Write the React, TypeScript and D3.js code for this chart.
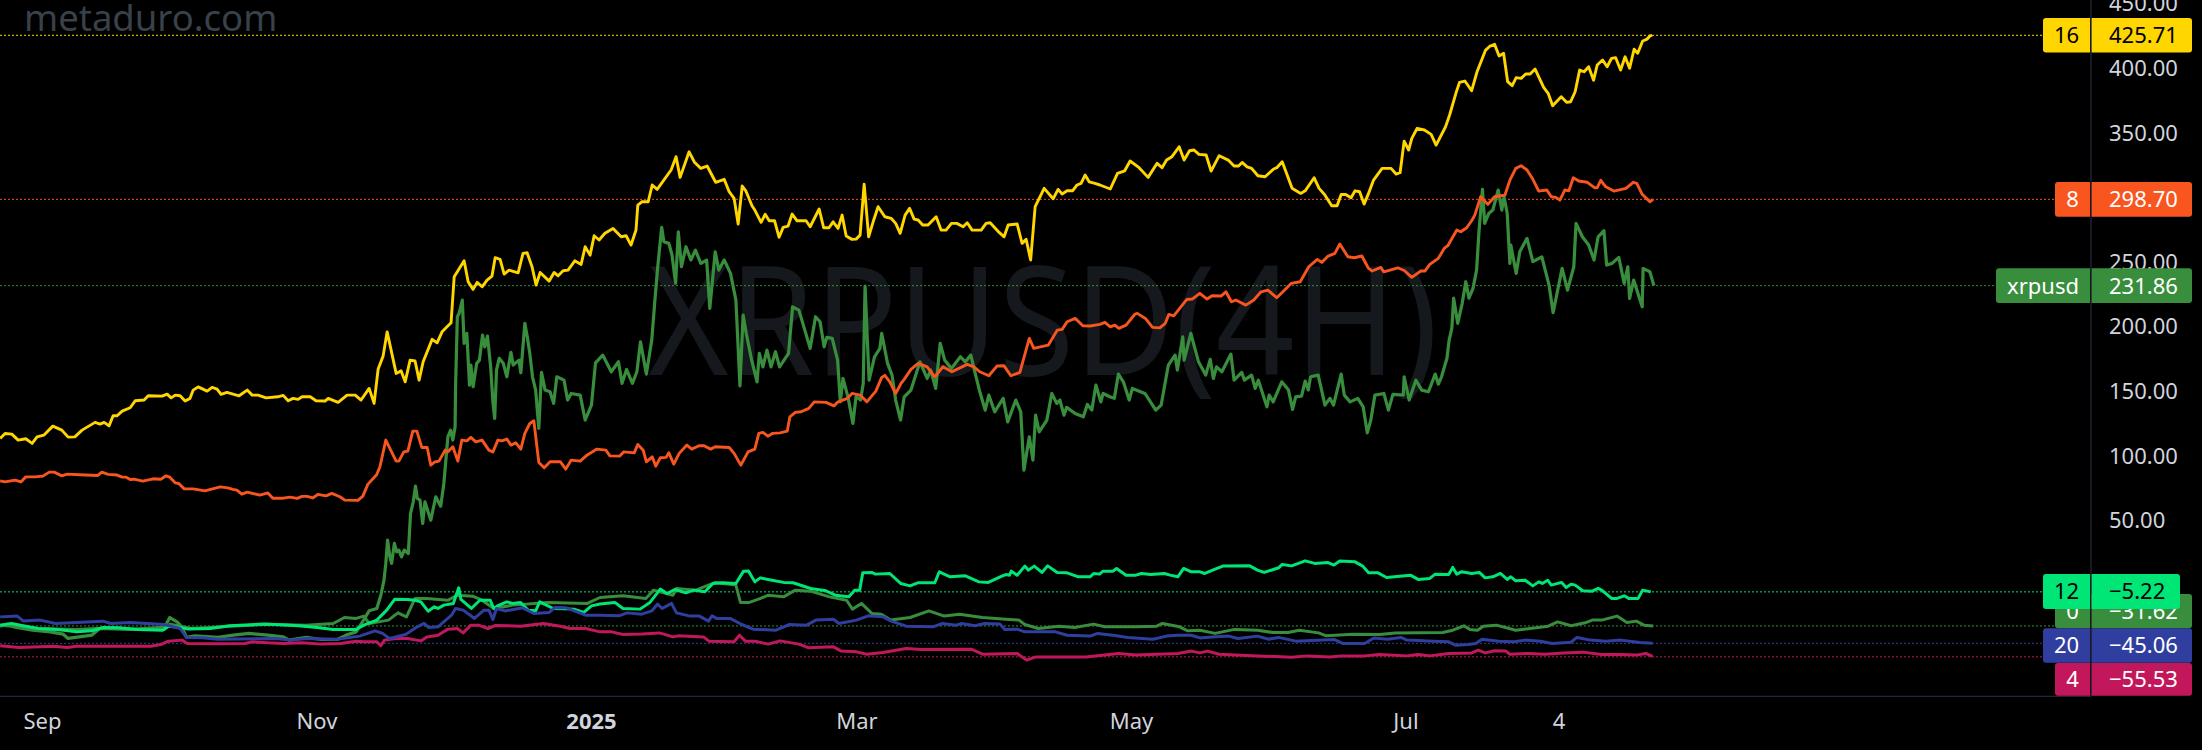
import React, { useEffect, useRef } from "react";
import * as d3 from "d3";

// [days since 2024-09-01, value]
type Pt = [number, number];

const yellow16: Pt[] = [
  [-9.3,113.6],[-8.2,117.4],[-6.7,116.9],[-5.3,112.3],[-3.6,113.3],[-2.2,109.7],[-1.1,114.8],[0.4,116.1],[2.4,123.1],[4.4,120],[5.8,114.6],[7.3,114.8],[8.9,120],[11.8,126],[12.9,124.7],[13.8,126],[14.9,123.3],[15.8,131.1],[16.7,131.1],[17.8,134.7],[19.6,137.3],[20.7,142.7],[22.7,143.3],[23.6,146.6],[26.7,146.3],[27.8,147.9],[28.7,145],[29.6,147.1],[30.7,146.6],[31.8,142.5],[32.9,144.6],[33.6,151],[34.7,153.5],[36.7,150.2],[37.8,153.1],[38.9,151.8],[39.8,147.7],[41.1,149.2],[43.8,146.6],[45.6,151],[46.7,147.1],[48,147.1],[49.8,145],[52.4,145.8],[53.6,146.9],[54.7,142.7],[55.8,144.6],[56.9,143.8],[57.8,145.8],[59.6,145.8],[60.9,142.7],[62.9,142.5],[63.6,144.6],[65.8,141.5],[67.8,147.1],[69.6,147.1],[70.9,143.3],[72.7,152.3],[73.8,140.7],[74.7,167.3],[75.8,177.3],[76.7,196.1],[78.7,163.9],[79.8,165.9],[80.7,157.4],[81.8,174.2],[82.9,173.5],[83.8,158.7],[84.7,172.9],[86.7,190.3],[87.8,187.6],[88.9,196.1],[90.9,203.1],[91.6,238.8],[93.8,251.1],[94.7,234.9],[95.8,229],[96.7,234.4],[97.8,231],[98.9,236.2],[100,239.3],[100.7,253.5],[101.8,252.2],[102.7,240.8],[103.8,243.9],[105.8,241.8],[106.9,256.9],[107.8,257.3],[108.9,246.5],[109.8,232.3],[110.7,242.1],[112.7,235.4],[113.8,242.1],[114.7,239.5],[115.8,243.4],[116.9,243.9],[118.4,251.1],[119.8,248.3],[120.7,262],[121.8,255.5],[122.7,270.5],[123.8,267.2],[125.1,272.4],[126.9,276.2],[128.7,269.7],[129.8,270.5],[130.9,263.3],[132,274.9],[132.4,294.3],[133.3,296.8],[134.7,296.8],[135.6,309.8],[136.7,306.4],[139.8,321.4],[140.9,331.7],[141.8,315.7],[143.8,335.5],[145,327.4],[146.4,322.7],[147.8,324.5],[149.7,311.9],[151.6,314.2],[152.7,304.6],[153.8,299.5],[154.7,279.6],[155.6,309],[156.4,305.3],[157.8,293.5],[158.4,290.4],[159.8,280.9],[160.7,287.1],[161.6,282.1],[162.8,282.1],[163.8,269.3],[164.7,277],[165.8,278],[166.7,287.3],[167.8,282.1],[169.8,282.1],[170.7,277.5],[172.7,291.2],[173.7,276.7],[174.9,276.7],[175.8,281.3],[176.9,276.2],[177.8,286.5],[178.7,270.3],[180,267.7],[180.9,267.9],[181.8,271],[182.7,310.5],[183.7,269.7],[184.7,281.3],[185.8,293],[187.3,285.2],[188.7,284],[189.7,280.1],[190.7,272.4],[191.8,286.5],[192.8,291.7],[193.8,283.4],[194.7,282.7],[195.7,278.8],[196.9,278.8],[198.7,285.2],[199.8,274.9],[200.9,274.9],[202.1,280.1],[203.3,280.1],[204.7,277.5],[205.6,280.6],[206.7,274.9],[208.7,274.9],[209.8,280.1],[210.7,280.6],[212.7,273.1],[213.8,269.7],[214.7,278.8],[216.7,279.6],[217.8,264.6],[218.7,267.7],[219.7,251.7],[220.7,293],[222.7,307.2],[224.7,299.2],[225.8,306.4],[226.7,302.8],[227.8,305.3],[229,305.3],[230,309.8],[230.9,311],[231.8,317.5],[232.7,312.3],[234,311],[235.1,309.8],[237.4,306.7],[239,318.8],[240.6,320.8],[241.8,328.4],[243.8,323.2],[245.8,315.7],[247.8,326.6],[248.9,323.2],[249.9,329.1],[251.1,331.7],[252.7,339.4],[253.8,329.1],[255,336.3],[256,336.9],[257.1,333.5],[258.7,333],[259.8,320.6],[261.6,332.5],[263.6,329.1],[264.9,324.5],[265.9,324.5],[266.7,327.3],[267.8,323.9],[268.8,322.7],[270.2,317],[271.8,316.2],[273.7,322.2],[274.4,323.2],[275.6,327.8],[277.8,307.2],[279.7,303.3],[280.7,305.3],[282.7,315.4],[283.8,307.2],[285,302.5],[286.6,293.7],[287.8,293.7],[288.7,302.5],[289.7,302.5],[290.9,299.9],[291.8,305.3],[292.8,304.6],[293.8,295],[294.7,302.5],[295.9,313.6],[297.8,322.7],[299.8,322.7],[300.9,318.3],[301.8,319.3],[302.7,343.8],[303.7,336.9],[304.4,345.9],[305.6,353.7],[307.2,352.4],[308.7,349],[309.8,340.7],[311.9,354.9],[312.8,364],[314.2,380.8],[315,389.3],[316.2,390.3],[317.7,382.8],[318.9,397.5],[320.8,414.3],[321.8,417.4],[322.8,418.7],[323.8,409.7],[324.8,411.8],[325.7,389.8],[326.7,386.7],[327.6,392.9],[328.7,392.4],[329.7,395.7],[330.7,395.7],[331.8,399.6],[333.7,385.4],[334.7,380.8],[335.7,371.2],[337.6,378.2],[338.8,373.8],[339.7,374.3],[340.7,382],[341.7,398.8],[342.7,397.5],[343.7,401.4],[344.8,391],[345.6,402.7],[346.8,406.6],[347.8,401.4],[348.8,407.9],[349.7,408.4],[350.8,398.8],[351.8,409.1],[352.8,400.2],[353.8,414.9],[354.6,411.8],[355.7,421.3],[356.7,422.8],[357.3,425.2],[357.8,425.71],
];

const orange8: Pt[] = [
  [-9.3,80.7],[-8.2,79.9],[-6,81.3],[-4.7,79.9],[-3.6,83.8],[-1.6,83.8],[0.2,84.4],[1.6,87.5],[2.7,87.5],[4.4,84.6],[5.6,85.9],[8.4,85.4],[12.4,84.9],[13.3,87.5],[14.7,85.7],[16.7,85.2],[17.8,83.6],[18.7,83.6],[19.6,81.8],[20.4,82],[22.4,80.5],[24.7,82.3],[26.4,82],[27.6,84.6],[28.4,83.6],[29.6,79.2],[30.4,78.7],[31.6,74.5],[33.6,74.5],[36.2,73],[39.6,76.1],[41.3,75.3],[42.4,74.1],[43.3,73.5],[44.4,70.4],[45.6,72],[48.4,69.7],[50.2,71.4],[51.3,67.3],[53.6,67.3],[55.1,68.1],[56.7,67.1],[57.8,68.7],[58.9,68.7],[60.2,67.5],[61.3,70.2],[63.1,69.1],[64.4,71],[66.2,68.4],[67.3,65.8],[70.2,65.6],[71.3,68.9],[72.4,78],[74.4,85.7],[75.1,91.6],[76.4,112.3],[78.7,96],[79.3,96],[80.4,103.2],[81.3,103.7],[82.4,119.2],[83.3,119.2],[84.4,106.6],[85.6,106.6],[86.4,92.9],[87.3,95.4],[88.2,96],[89.6,104.5],[90.2,103.2],[91.3,107.1],[92.4,96],[93.3,112.3],[94.4,111.7],[95.3,114.4],[96.4,110.9],[97.8,112.3],[99.3,104.5],[100.2,103.1],[101.3,112.3],[102.2,111.7],[103.3,113.1],[104.2,108.4],[105.3,110.2],[106.4,105.3],[107.3,117.5],[108.4,125.2],[109.3,127.2],[110.4,95],[111.6,90.8],[112.9,95.5],[115.2,95.5],[116.4,89.8],[117.6,96.8],[119.6,96],[121.1,100.6],[123.3,105.3],[125.3,104.5],[126.2,100.1],[128.4,99.9],[129.3,103.2],[131.6,102.4],[132.4,108.9],[133.6,104.5],[134.3,95.5],[135.6,99.3],[136.4,92.1],[137.4,98.6],[138.7,98.9],[139.3,102.4],[140.4,93.7],[141.6,102],[143.3,108.4],[144.4,105.3],[146,107.9],[147.1,107.9],[148.6,105.3],[149.6,107.1],[152.7,106.6],[153.8,102],[155.3,92.9],[156.9,103.2],[158.4,105.3],[159.3,117.5],[160.2,118.2],[161.3,115.3],[162.4,117.5],[164,117.9],[165.6,119.2],[166.2,130.3],[167.4,133.7],[168.7,134.2],[170.4,136.8],[171.6,141.9],[174.2,141.5],[176,138.8],[176.9,141.9],[179,144.6],[180,148.4],[181.8,147.1],[183.3,141.9],[185.3,150.2],[186.6,160.8],[187.3,162.4],[188.4,157.4],[189.7,148.4],[190.9,156.2],[191.6,159.3],[193.1,167],[194.7,171.7],[196.7,169],[198.4,161.3],[200.2,169],[202.2,165.2],[205.6,170.9],[207.1,169],[208.4,165.2],[210.4,162.1],[212.2,169.6],[213.8,169.8],[215.3,162.1],[217.3,164.7],[219.4,191],[220.4,183.3],[223.6,185.8],[225.6,197.4],[226.7,198],[227.8,203.9],[229.6,206.5],[231.3,200.8],[232.9,200.6],[235.1,201.9],[236.2,203.4],[237.4,200],[238.4,201.3],[239.3,198.8],[240.9,201.3],[242.9,209.9],[243.4,210.4],[245.2,206.5],[246.8,199.6],[248.4,199.2],[249.6,202.6],[250.4,209.6],[251.5,208.5],[254.4,221.2],[255.6,221.5],[257.3,225.9],[258.9,221.5],[260,224],[262,223.8],[263.1,227.1],[264.3,219.4],[265.3,220.7],[267.5,216.8],[269.3,220.7],[270.9,227.1],[272.4,228.4],[274.4,222.5],[277.6,233.6],[279.6,234.9],[281.5,246.5],[283.4,252.2],[284.4,249.9],[285.8,254.8],[287.3,256.9],[288.4,264.1],[290.2,254.2],[291.6,253.5],[293.3,254.8],[294.7,245.7],[295.6,243.2],[297.5,246],[298.2,242.6],[301.3,245.7],[302.8,243.4],[304.4,238.3],[306.4,243.2],[307.3,243.2],[308.4,248.3],[310.3,253],[311.6,260.7],[312.4,262.8],[314.4,274.9],[315.3,273.6],[316.6,276.7],[317.8,282.7],[318.4,286.5],[319.7,300.7],[321.3,294.8],[322.8,300.7],[325.1,302],[326.2,313.6],[327.5,322.7],[328.7,324.7],[330,321.4],[331.2,314.9],[332.6,305.1],[334.4,305.9],[335.4,300.7],[336.4,300.2],[337.3,298.1],[338.4,305.9],[339.3,305.3],[340.3,315.4],[341.5,312.9],[343.4,311.9],[345,307.7],[345.6,307.7],[346.4,313.4],[347.5,308.4],[349.3,305.1],[352,307.2],[353.6,311.9],[354.4,311.1],[355.6,302.6],[357.3,296.8],[358,298.7],
];

const xrpusd: Pt[] = [
  [-9.3,-31.8],[-7.6,-30.3],[-6,-32.6],[-2.1,-34.9],[1.8,-36.2],[4.7,-38],[5.8,-41.3],[11.1,-38.7],[12.8,-33.6],[19.6,-34.3],[27.2,-32.8],[28.4,-25.1],[30,-28.4],[31.1,-32.3],[32.1,-40.5],[34,-39.3],[39.1,-40.5],[42.5,-38.7],[46,-37.4],[50.2,-38.7],[53.6,-40.1],[54.9,-42.6],[58.7,-40.5],[62.1,-42.1],[65.6,-42.1],[67.6,-38.7],[69.8,-36.2],[71,-29.7],[72.7,-19.9],[74.4,-18.1],[75.3,-7.8],[76,3.8],[76.4,16.8],[76.8,34.8],[77.3,21.9],[77.7,16.8],[78.3,32.3],[78.8,25.8],[79.3,27.1],[79.9,21.9],[80.5,27.1],[81.4,24.5],[81.9,55.5],[82.5,64.5],[83,76.6],[83.4,67.1],[84,65.8],[84.6,47.7],[85.1,64.5],[85.8,56.7],[86.4,50.3],[87.5,68.4],[88.6,61.1],[89.3,78.7],[90.2,114.8],[90.8,120],[91.3,112.3],[91.8,122.6],[91.9,153.6],[92.3,207.8],[92.7,210.4],[93.4,220.7],[93.8,187.2],[94.4,194.9],[95,154.9],[95.3,170.4],[95.8,153.6],[96.6,171.7],[97.2,174.2],[97.9,193.6],[98.4,184.5],[99,192.8],[99.7,169],[100.2,141.9],[100.6,129],[101,166.5],[101.6,175.6],[102.5,171.7],[103.3,161.3],[104.2,180.2],[104.7,170.4],[106,174.2],[106.4,164.4],[107.3,202.7],[107.9,191],[108.4,179.4],[109,161.3],[109.7,151],[110.4,121.3],[111,164.7],[111.8,151],[112.9,149.7],[113.7,140.7],[114.4,161.3],[116,158.7],[116.8,143.3],[117.6,148.4],[119.6,147.1],[120.7,127.8],[122.1,139.4],[123,172.1],[124.6,178.1],[126.5,165.2],[128.1,172.9],[128.9,156.2],[129.9,167],[131.2,156.2],[132.2,165.2],[133,188.4],[134.3,163.4],[135.5,189.7],[136.2,220.7],[136.8,245.2],[137.7,277],[138.2,265.8],[139.3,264.6],[140,255.6],[140.8,233.6],[141.4,273.6],[142.1,246.5],[143.1,262],[144.2,251.7],[145.2,259.4],[146.4,249.1],[147.7,251.7],[148.4,214.3],[149.6,258.1],[150.4,243.9],[151.6,251.7],[153,241.4],[154.2,220.7],[155.1,154.3],[155.8,209.1],[156.5,194.9],[157.7,174.2],[158.9,157.4],[159.4,179.4],[160.2,169],[161.1,182],[162,169],[163,180.7],[163.9,169],[165.9,179.4],[166.8,215.5],[168.2,212.9],[169.4,198.8],[170.7,183.3],[171.9,207.8],[172.9,203.9],[173.8,184.5],[174.4,191.8],[175.6,191],[176.8,174.2],[177.4,141.9],[178,160],[179.1,145.8],[180.2,125.2],[180.9,145.8],[181.9,143.3],[182.5,156.2],[182.9,231.5],[183.8,158.7],[185,176.8],[186.2,183.3],[186.6,194.9],[187.9,171.7],[188.9,162.6],[189.7,143.3],[190.8,127.8],[191.6,145.8],[193.1,151],[195.1,172.9],[196.7,160],[197.5,166.5],[198.6,152.3],[199.6,187.2],[200.6,174.2],[202.1,167.8],[204.1,176.8],[205.2,172.9],[206.4,178.1],[207.2,166.5],[208.4,149.7],[209.6,135.5],[210.4,147.1],[211.7,134.2],[213.6,144.6],[214.6,126.4],[216.4,143.3],[217.5,134.2],[218.2,89],[219.4,114.8],[220.2,96.8],[220.8,131.6],[221.6,118.7],[223.3,127.8],[224.4,148.4],[225.5,140.7],[226.2,143.3],[227.1,131.6],[227.7,137.6],[229.6,132.9],[231.4,130.3],[232.3,139.9],[233.3,135.5],[234.2,154.9],[235.3,141.9],[235.8,148.4],[237.3,145.8],[238.3,144.6],[239.2,163.4],[240.3,157.4],[241.6,143.3],[242.3,152.3],[245.1,148.4],[247.5,135.5],[248.7,139.4],[250.3,170.4],[251.8,178.1],[252.3,166.5],[253.5,192.3],[253.8,174.2],[255.3,194.9],[257,172.9],[258.6,162.6],[259.6,174.8],[260.3,160],[261,169],[262.2,165.2],[264.2,178.9],[264.9,158.7],[266.6,164.7],[267.2,158.7],[268.8,162.6],[269.6,152.3],[270.3,158.7],[272.2,138],[272.7,147.1],[273.6,141.9],[275.5,157.4],[277,151],[277.9,136],[278.6,145.8],[279.9,146.3],[280.7,158],[281.4,151],[281.9,161.3],[283.6,162.6],[285.1,139.4],[286.2,144.6],[287,139.4],[288.7,163.4],[289.4,147.1],[290.7,141.9],[292.4,144.6],[293.6,138],[294.5,117.9],[295.3,127.8],[296.2,147.1],[298.2,148.4],[299.2,135.5],[300.2,147.7],[302.5,147.1],[302.7,161.3],[303.8,143.3],[305.3,158.7],[306.6,151],[308.1,149.7],[309.6,163.4],[310.3,155.6],[311,161.3],[312.2,175.5],[312.7,189.7],[313.3,199],[313.7,222.2],[314.6,202.7],[315.6,218.2],[316.4,234.9],[317.1,222.2],[318,229.8],[318.8,243.9],[319.3,272.4],[320.1,306.4],[320.6,280.1],[321.5,287.8],[322.4,290.4],[323.6,305.9],[324.4,290.4],[324.9,300.7],[325.6,287.8],[326.2,249.1],[326.4,263.3],[327.6,241.4],[328.4,258.1],[330,268.5],[331.3,250.4],[333.3,254.2],[334.9,232.3],[335.8,210.9],[337.8,245.2],[339,228.4],[340.4,246.5],[340.9,280.1],[342.3,269.7],[343.7,263.3],[344.9,251.7],[345.8,269.7],[347.1,274.4],[347.7,247.8],[348.9,249.1],[350.4,253.8],[351.6,233.6],[352.4,246.5],[352.8,222],[353.7,236.2],[355.6,215.5],[355.8,245.2],[357.3,242.6],[358.2,231.86],
];

const neon12: Pt[] = [
  [-9.3,-31],[-6.8,-29.7],[-4.2,-31.5],[-0.8,-33.6],[3.4,-34.3],[7.7,-36.2],[11.1,-35.4],[13.6,-32.8],[17,-33.1],[21.3,-34.3],[26.8,-34.9],[28.1,-31.8],[30.7,-32.8],[32.3,-33.9],[37.4,-33.6],[41.7,-31.5],[49.3,-30.2],[57,-31.5],[61.2,-32.8],[64.7,-34.3],[69.8,-34.3],[71.5,-31],[74.4,-27.1],[76.6,-19.4],[78.4,-10.9],[81.2,-11.1],[82.9,-11.7],[84.2,-13],[85.8,-20.2],[87.2,-16.8],[88,-18.1],[89.3,-15.5],[91.4,-14.2],[92.6,-2.1],[93.1,-11.1],[95.4,-18.1],[97.3,-11.7],[99.6,-11.7],[100.4,-18.1],[101.2,-16.1],[103.3,-13],[104.6,-14.2],[106.3,-13.4],[108,-19.4],[109.7,-19.9],[110.6,-13],[113.6,-18.1],[118.2,-18.6],[120.4,-21.2],[122.1,-16.1],[124,-14.7],[127.3,-13.4],[129.1,-18.1],[132.9,-18.6],[135.1,-13.4],[137.4,-3.1],[138.9,-6.5],[140.6,-3.4],[143.1,-6],[144.8,-3.9],[147.3,-5.2],[149.1,1.3],[151.2,1.8],[154.2,1.3],[155.9,10.8],[157,11],[158.4,2.5],[159.6,5.6],[162.2,3.8],[164.8,2.1],[166.9,1.8],[170.8,-2.6],[174.2,-4.4],[176.3,-7.8],[179.3,-9.1],[180.6,-3.9],[181.7,-3.9],[182.4,9.5],[184.4,9.8],[185.2,8.5],[188.4,9],[190.8,1.3],[192.9,-0.6],[194.6,1.8],[198.4,1.8],[199.4,10.3],[201.8,6.4],[205.2,7.2],[208.2,2.5],[210.3,2.1],[213.3,6.9],[214.2,8.2],[215,7.7],[215.4,10.8],[216.7,7.7],[218.4,14.7],[219.2,11.6],[220.5,14.7],[222.2,9.8],[223.5,14.9],[225.6,9.8],[227.8,9.5],[230.3,6.4],[232.9,6.4],[233.7,9],[235,8.5],[235.8,10.8],[238,10.8],[238.8,12.9],[240.9,7.7],[243.1,7.7],[244.3,9],[246.4,8.2],[249.4,9],[250.7,7.7],[252.4,6.4],[253.7,12.9],[255.4,10.3],[257.3,10.3],[258.4,9],[260.7,12.4],[262.4,14.7],[268.4,14.9],[270.1,11.6],[271.6,9.8],[274.8,13.4],[275.6,16],[277.7,14.9],[280.7,18.8],[282.8,16.8],[285.8,17.5],[287.1,15.5],[288.4,18.6],[291.8,18],[293.5,14.7],[294.8,9.5],[296.9,9.5],[298.8,5.9],[304.1,7.7],[305.8,4.4],[308.4,5.2],[309.6,8.5],[312.6,8.2],[313.5,13.7],[314.4,8.5],[315.4,10.3],[317.7,9],[319.4,9.8],[320.7,5.6],[322.4,6.4],[324.1,9],[325.6,4.4],[326.4,6.4],[327.5,3.3],[329.6,3.8],[331.3,-0.6],[332.6,2.5],[333.4,1.3],[334.6,3.8],[335.4,0],[337.7,2.1],[338.7,-1.8],[339.8,0.7],[340.7,0],[342.4,-4.4],[344.5,-4.7],[345.8,-2.6],[346.6,-3.9],[348.8,-10.3],[350,-10.3],[351.6,-8.3],[352.6,-10.3],[354.7,-10.3],[355.7,-3.9],[357.5,-5.22],
];

const green0: Pt[] = [
  [-9.3,-31],[-0.8,-33.6],[7.7,-34.3],[11.9,-33.6],[16.2,-33.1],[20.4,-34.3],[27.2,-34.3],[28.5,-30.2],[33.2,-33.6],[41.7,-31.8],[50.2,-30.4],[58.7,-31],[64.7,-29.7],[67.2,-25.1],[69.8,-25.8],[71.5,-24],[72.7,-29.7],[75.7,-27.9],[77,-27.1],[79.1,-21.5],[81,-24.6],[82.9,-10.3],[85.5,-10.3],[90.2,-11.7],[92.3,-7.8],[95.7,-8.6],[97.8,-11.7],[100.4,-18.1],[104.6,-15.5],[112.3,-13.4],[121.2,-14.2],[124,-9.6],[129.1,-8.3],[134.2,-10.3],[135.9,-3.9],[140.2,-7.8],[141,-2.6],[145.3,-3.9],[149.5,2],[154.2,0],[155.2,-13.4],[157.2,-13.4],[159.7,-10.3],[161.4,-7.8],[164.8,-9.1],[167.4,-3.9],[170.8,-4.7],[175,-9.1],[178.8,-11.7],[180.1,-18.6],[182.1,-14.2],[184.4,-21.9],[186.5,-22.5],[188.6,-27.1],[192.9,-25.1],[197.1,-19.9],[200.5,-24],[203.9,-22.5],[209,-25.1],[214.2,-26.4],[217.1,-27.1],[218.4,-30.5],[221.4,-33.6],[226,-31.8],[229.5,-32.8],[233.7,-30.2],[236.2,-32.3],[243.1,-32.3],[247.7,-31.8],[249,-29.7],[252.8,-32.3],[254.6,-35.4],[257.3,-34.9],[260.7,-37.4],[265,-34.3],[270.1,-34.9],[273.5,-36.7],[276.9,-36.7],[279.4,-34.9],[283.7,-37],[285.4,-39.3],[291.4,-38],[297.3,-38.2],[300.7,-37],[311.3,-36.7],[313.5,-34.9],[316,-31.5],[317.3,-34.3],[319,-34.9],[320.3,-31.8],[323.2,-31],[327.5,-34.9],[334.7,-31.8],[336.8,-28.5],[339.8,-31.5],[343.2,-28.9],[344.5,-27.1],[346.6,-27.1],[350,-24],[352.2,-28.9],[354.3,-27.9],[356,-31],[358,-31.62],
];

const blue20: Pt[] = [
  [-9.3,-24.6],[-5.5,-24],[-4.2,-27.7],[-0.4,-27.1],[3,-29.7],[13.6,-27.9],[15.3,-29.7],[19.6,-28.9],[27.2,-30.5],[30.7,-33.6],[32.1,-40.5],[35.7,-40.8],[39.1,-41.9],[51.9,-41.3],[55.3,-42.6],[58.7,-41.3],[65.5,-41.9],[70.6,-39.5],[74,-35.4],[75.7,-37.4],[77.2,-41.3],[80.8,-38.2],[83.4,-32.3],[84.9,-29.7],[85.9,-32.8],[88,-32.3],[91,-23.3],[91.9,-18.1],[93.6,-19.4],[96.1,-25.8],[98.2,-19.4],[99.3,-19.4],[100.2,-26.6],[101,-18.1],[102.9,-20],[106.8,-17.6],[109.3,-22],[112.7,-21.2],[114,-17.3],[116.5,-17.6],[120.8,-23.3],[124,-23.3],[128.2,-23.8],[130,-21.5],[133.3,-22.5],[135.5,-20],[136.8,-14.7],[137.8,-18.1],[139.9,-14.2],[141,-21.5],[144,-24],[146.1,-24],[148.1,-27.9],[148.9,-23.8],[149.9,-25.8],[152.9,-25.8],[155.5,-30.5],[158,-34.1],[163.1,-34.9],[166.1,-30.5],[169.9,-31],[172,-27.1],[175.9,-26.4],[177.1,-29.7],[181,-27.1],[183.6,-23.8],[186.9,-24.6],[188.6,-27.7],[192,-31.8],[198,-32.3],[200.1,-29.7],[203.1,-31],[204.4,-29.7],[207.3,-31.5],[209.5,-29.7],[212.9,-30.2],[213.9,-34.3],[216.7,-34.1],[218.4,-36.2],[225.2,-36.2],[227.8,-38.8],[232.9,-39.5],[234.6,-37.4],[238,-38.8],[241.3,-40.5],[246.9,-41.9],[249.9,-39.5],[252.4,-38.8],[255.4,-38.8],[257.3,-40.9],[259.9,-40.1],[263.7,-39.5],[265.8,-41.3],[270.1,-39.5],[272.6,-41.9],[274.8,-40.5],[278.6,-43.4],[287.1,-42.1],[289,-45.2],[293.9,-45.2],[296,-40.9],[299,-41.9],[302,-40.5],[303.3,-42.6],[309.2,-43.4],[312.6,-43.9],[314.1,-46.5],[316.9,-46],[318.6,-45.2],[320,-41.9],[323.7,-43.4],[327.1,-43.9],[329.6,-42.6],[333,-43.4],[335.6,-45.2],[339.8,-44.2],[341.1,-40.5],[344.1,-42.6],[347.5,-43.4],[350.9,-42.6],[355.1,-44.4],[357.9,-45.06],
];

const crimson4: Pt[] = [
  [-9.3,-47],[-5.1,-48.3],[2.6,-47.3],[5.6,-48.3],[7.7,-47.3],[24.2,-47.3],[26.4,-46],[28.1,-43.4],[31.1,-42.6],[32.3,-45.2],[38.3,-45.5],[45.1,-45.2],[46.8,-43.9],[50.2,-44.7],[53.6,-45.2],[57.8,-44.7],[62.1,-45.7],[66.4,-45.2],[69.8,-43.4],[71.5,-43.9],[74.4,-43.9],[75.3,-47],[76.1,-42.6],[79.1,-41.1],[81.2,-41.3],[84.2,-43.2],[85.5,-40.1],[88,-38.8],[90.2,-34.1],[92.3,-33.6],[93.6,-37],[95.3,-31],[97,-31],[99.1,-33.6],[100.8,-31.2],[106.3,-31.8],[111.4,-29.7],[115.2,-31.8],[117.3,-33.6],[120.8,-33.6],[124,-36.2],[126.6,-36.2],[129.1,-38.2],[133.3,-37.8],[137.2,-37],[140.2,-40.1],[141.4,-39.3],[147,-40.1],[148.2,-43.4],[153.8,-43.9],[155,-38.8],[156.3,-43.4],[158.4,-43.4],[161.4,-45.7],[164,-43.2],[168.2,-45.7],[170.4,-48.6],[175.9,-47.8],[177.6,-51.1],[181,-51.7],[183.3,-53.5],[186.9,-52.2],[192,-49.1],[195.4,-49.8],[206.5,-49.6],[209,-53.5],[216.7,-52.9],[218.8,-58.1],[220.9,-55.6],[232,-55.6],[239.2,-52.9],[243.1,-54.2],[252.4,-52.9],[255.4,-51.1],[257.3,-52.5],[259,-51.1],[261.6,-53.5],[270.1,-54.8],[277.7,-55.8],[281.1,-54.8],[286.2,-55.6],[288.8,-54.8],[293.9,-54.8],[297.3,-53.7],[303.3,-54.8],[305.8,-53.7],[308.4,-54.8],[312.6,-52.9],[317.7,-52.5],[319.2,-50.4],[320.7,-52.5],[322.8,-50.9],[325.3,-51.1],[326.2,-53.5],[330.4,-52.9],[333.9,-53.5],[338.1,-52.5],[342.4,-51.9],[346.6,-53.7],[350.9,-53.7],[354.3,-54.2],[356.4,-52.9],[357.9,-55.2],
];

// 300 and 0 are covered by the price badges, so they are not listed
const yTicks = [450, 400, 350, 250, 200, 150, 100, 50];
const xTickDays = [0, 61, 122, 181, 242, 303, 337];
const xTickLabels = ["Sep", "Nov", "2025", "Mar", "May", "Jul", "4"];

const LINE_GREEN = "#388E3C";
const LINE_ORANGE = "#F9561F";
const LINE_YELLOW = "#FFD600";
const LINE_NEON = "#00E676";
const LINE_BLUE = "#303F9F";
const LINE_CRIMSON = "#C2185B";

const seriesOrder: { pts: Pt[]; color: string; width: number }[] = [
  { pts: xrpusd, color: LINE_GREEN, width: 3.2 },
  { pts: green0, color: LINE_GREEN, width: 3 },
  { pts: crimson4, color: LINE_CRIMSON, width: 3 },
  { pts: orange8, color: LINE_ORANGE, width: 2.9 },
  { pts: neon12, color: LINE_NEON, width: 3 },
  { pts: yellow16, color: LINE_YELLOW, width: 2.9 },
  { pts: blue20, color: LINE_BLUE, width: 3 },
];

const lastValues = [
  { name: "0", value: -31.62, color: LINE_GREEN, ink: "#fff" },
  { name: "xrpusd", value: 231.86, color: LINE_GREEN, ink: "#fff" },
  { name: "8", value: 298.7, color: LINE_ORANGE, ink: "#fff" },
  { name: "16", value: 425.71, color: LINE_YELLOW, ink: "#000" },
  { name: "20", value: -45.06, color: LINE_BLUE, ink: "#fff" },
  { name: "4", value: -55.53, color: LINE_CRIMSON, ink: "#fff" },
  { name: "12", value: -5.22, color: LINE_NEON, ink: "#000" },
];

const W = 2202;
const H = 750;
const PLOT_RIGHT = 2091;
const PLOT_BOTTOM = 696.3;
const FONT = '"Noto Sans", sans-serif';

const START = Date.UTC(2024, 8, 1);
const dayToDate = (d: number) => new Date(START + d * 864e5);

// labels that got pushed away from their price line, so they don't overlap
const stackedCenter: Record<string, { top: number; bottom: number }> = {
  "12": { top: 574, bottom: 609 },
  "0": { top: 594, bottom: 628.3 },
  "20": { top: 628.3, bottom: 662.7 },
  "4": { top: 663, bottom: 695.7 },
};

const App: React.FC = () => {
  const svgRef = useRef<SVGSVGElement>(null);

  useEffect(() => {
    if (!svgRef.current) return;
    const svg = d3.select(svgRef.current);
    svg.selectAll("*").remove();

    const x = d3
      .scaleTime()
      .domain([dayToDate(-42 / 4.5), dayToDate(2049 / 4.5)])
      .range([0, PLOT_RIGHT]);
    const y = d3.scaleLinear().domain([453.05, -86.1]).range([0, PLOT_BOTTOM]);

    svg.append("rect").attr("width", W).attr("height", H).attr("fill", "#000");

    // watermarks
    svg
      .append("text")
      .attr("x", 648)
      .attr("y", 375)
      .attr("font-family", FONT)
      .attr("font-size", 152)
      .attr("textLength", 790)
      .attr("lengthAdjust", "spacingAndGlyphs")
      .attr("fill", "#15181d")
      .text("XRPUSD(4H)");
    svg
      .append("text")
      .attr("x", 24)
      .attr("y", 30.7)
      .attr("font-family", FONT)
      .attr("font-size", 36.5)
      .attr("fill", "#39414a")
      .text("metaduro.com");

    // dotted last-price lines
    const lineEnd: Record<string, number> = { xrpusd: 1996, "8": 2055, "0": 2055, "4": 2043, "16": 2043, "12": 2043, "20": 2043 };
    lastValues.forEach((s) => {
      svg
        .append("line")
        .attr("x1", 0)
        .attr("x2", lineEnd[s.name])
        .attr("y1", y(s.value))
        .attr("y2", y(s.value))
        .attr("stroke", s.color)
        .attr("stroke-width", 1)
        .attr("stroke-dasharray", "2 2");
    });

    // series
    const line = d3
      .line<Pt>()
      .x((d) => x(dayToDate(d[0])))
      .y((d) => y(d[1]));
    seriesOrder.forEach((s) => {
      svg
        .append("path")
        .attr("d", line(s.pts))
        .attr("fill", "none")
        .attr("stroke", s.color)
        .attr("stroke-width", s.width)
        .attr("stroke-linejoin", "round");
    });

    // axes
    const yAxis = svg
      .append("g")
      .attr("transform", `translate(${PLOT_RIGHT},0)`)
      .call(
        d3
          .axisRight(y)
          .tickValues(yTicks)
          .tickSize(0)
          .tickPadding(18)
          .tickFormat((d) => d3.format(".2f")(d as number))
      );
    const xAxis = svg
      .append("g")
      .attr("transform", `translate(0,${PLOT_BOTTOM})`)
      .call(
        d3
          .axisBottom(x)
          .tickValues(xTickDays.map(dayToDate))
          .tickSize(0)
          .tickPadding(17)
          .tickFormat((_, i) => xTickLabels[i])
      );
    [yAxis, xAxis].forEach((a) => {
      a.select(".domain").remove();
      a.selectAll("text").attr("font-family", FONT).attr("font-size", 22).attr("fill", "#d1d4dc");
    });
    xAxis
      .selectAll("text")
      .filter((_, i) => xTickLabels[i] === "2025")
      .attr("font-weight", 700);

    svg
      .append("path")
      .attr("d", `M0,${PLOT_BOTTOM}H${PLOT_RIGHT}M${PLOT_RIGHT},0V${PLOT_BOTTOM}`)
      .attr("fill", "none")
      .attr("stroke", "#2f3045")
      .attr("stroke-width", 1);

    // price badges
    const r = 3;
    const badge = (s: (typeof lastValues)[number]) => {
      const stacked = stackedCenter[s.name];
      const top = stacked ? stacked.top : y(s.value) - 17.3;
      const bottom = stacked ? stacked.bottom : y(s.value) + 17.3;
      const mid = (top + bottom) / 2;
      const left = lineEnd[s.name] === 1996 ? 1996 : s.name.length > 1 ? 2043 : 2055;
      const right = s.name === "12" ? 2180 : 2192;
      const g = svg.append("g");
      g.append("path")
        .attr("fill", s.color)
        .attr(
          "d",
          `M2090,${top}H${left + r}Q${left},${top} ${left},${top + r}V${bottom - r}Q${left},${bottom} ${left + r},${bottom}H2090Z`
        );
      g.append("path")
        .attr("fill", s.color)
        .attr(
          "d",
          `M2091.6,${top}H${right - r}Q${right},${top} ${right},${top + r}V${bottom - r}Q${right},${bottom} ${right - r},${bottom}H2091.6Z`
        );
      g.append("text")
        .attr("x", (left + 2090) / 2)
        .attr("y", mid)
        .attr("dy", ".36em")
        .attr("text-anchor", "middle")
        .attr("font-family", FONT)
        .attr("font-size", 22)
        .attr("fill", s.ink)
        .text(s.name);
      g.append("text")
        .attr("x", 2109)
        .attr("y", mid)
        .attr("dy", ".36em")
        .attr("font-family", FONT)
        .attr("font-size", 22)
        .attr("fill", s.ink)
        .text(d3.format(".2f")(s.value).replace("-", "\u2212"));
    };
    lastValues.forEach(badge);
  }, []);

  return (
    <svg
      ref={svgRef}
      width={W}
      height={H}
      viewBox={`0 0 ${W} ${H}`}
      style={{ position: "absolute", left: 0, top: 0, display: "block" }}
    />
  );
};

export default App;
